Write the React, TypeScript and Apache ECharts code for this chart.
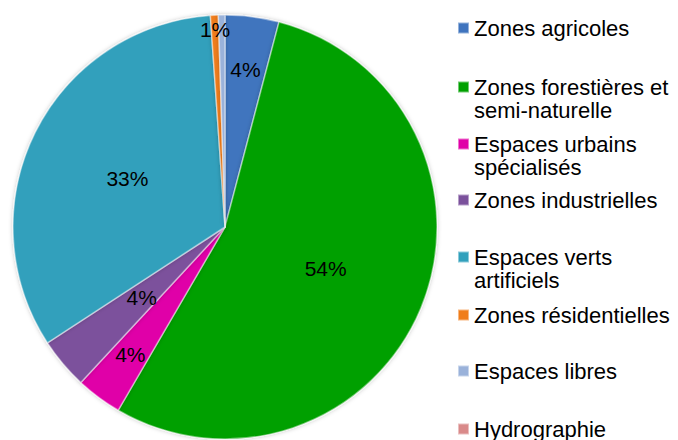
import React, { useEffect, useRef } from "react";
import * as echarts from "echarts";

const categories = [
  "Zones agricoles",
  "Zones forestières et semi-naturelle",
  "Espaces urbains spécialisés",
  "Zones industrielles",
  "Espaces verts artificiels",
  "Zones résidentielles",
  "Espaces libres",
  "Hydrographie",
];
const shares = [4.1, 54.3, 3.5, 3.9, 33.1, 0.6, 0.5, 0];
const legendText = [
  "Zones agricoles",
  "Zones forestières et\nsemi-naturelle",
  "Espaces urbains\nspécialisés",
  "Zones industrielles",
  "Espaces verts\nartificiels",
  "Zones résidentielles",
  "Espaces libres",
  "Hydrographie",
];

const colors = ["#3F74BE", "#00A000", "#E000A8", "#7B519C", "#31A0BC", "#F07D1A", "#9AB2DA", "#D98A8A"];
// which radial band each percentage label sits in (-1 = none)
const labelBand = [1, 0, 1, 0, 0, 2, -1, -1];
const bands: [number, number][] = [[0, 212], [100, 212], [178, 212]];
const legendIconCenters = [28, 87, 144, 200, 257, 315, 371, 429];

const CENTER = [225, 227];
const R = 212;
const FONT = "Liberation Sans, Arial, sans-serif";
const LH = 23;

export default function App() {
  const ref = useRef<HTMLDivElement>(null);
  useEffect(() => {
    if (!ref.current) return;
    const chart = echarts.init(ref.current, undefined, { renderer: "svg" });
    const fmt = (p: any) => Math.round(p.percent) + "%";

    const mainSeries = {
      type: "pie",
      center: CENTER,
      radius: [0, R],
      startAngle: 90,
      clockwise: true,
      silent: true,
      label: { show: false },
      labelLine: { show: false },
      emphasis: { disabled: true },
      itemStyle: {
        borderColor: "rgba(255,255,255,0.45)",
        borderWidth: 1.5,
        shadowBlur: 4,
        shadowColor: "rgba(0,0,0,0.25)",
      },
      data: categories.map((n, i) => ({
        name: n,
        value: shares[i],
        itemStyle: { color: colors[i] },
      })),
    };

    const labelSeries = bands.map((b, bi) => ({
      type: "pie",
      center: CENTER,
      radius: b,
      startAngle: 90,
      clockwise: true,
      silent: true,
      emphasis: { disabled: true },
      labelLine: { show: false },
      itemStyle: { color: "rgba(0,0,0,0)", borderWidth: 0 },
      label: {
        position: "inside",
        formatter: fmt,
        color: "#000",
        fontSize: 21,
        fontFamily: FONT,
      },
      data: categories.map((n, i) => ({
        name: n,
        value: shares[i],
        label: { show: labelBand[i] === bi },
      })),
    }));

    const legends = categories.map((n, i) => {
      const twoLines = legendText[i].includes("\n");
      return {
        orient: "vertical",
        left: 457,
        top: legendIconCenters[i] - (twoLines ? 34.5 : 11.5),
        padding: 0,
        itemWidth: 11,
        itemHeight: 11,
        icon: "rect",
        selectedMode: false,
        data: [n],
        formatter: () => (twoLines ? "\n" + legendText[i] : legendText[i]),
        textStyle: {
          fontSize: 22,
          fontFamily: FONT,
          color: "#000",
          lineHeight: LH,
        },
      };
    });

    chart.setOption({
      animation: false,
      backgroundColor: "#fff",
      color: colors,
      legend: legends,
      series: [mainSeries, ...labelSeries],
    });
    return () => chart.dispose();
  }, []);
  return <div ref={ref} style={{ width: 678, height: 440, position: "absolute", left: 0, top: 0 }} />;
}
